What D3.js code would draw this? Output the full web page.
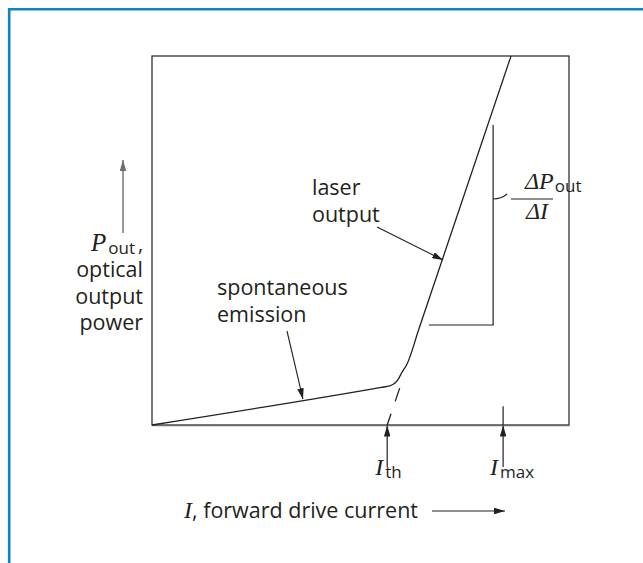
<!DOCTYPE html>
<html>
<head>
<meta charset="utf-8">
<script src="https://cdn.jsdelivr.net/npm/d3@7"></script>
<style>
  html, body { margin: 0; padding: 0; background: #fff; }
  svg { display: block; }
  .sans { font-family: 'Open Sans', 'Noto Sans', sans-serif; fill: #231f20; }
  .serif { font-family: 'Liberation Serif', 'DejaVu Serif', serif; font-style: italic; fill: #231f20; }
</style>
</head>
<body>
<div id="chart"></div>
<script>
// L-I curve of a laser diode (arbitrary units)
const currentVals = [0, 5.5, 5.70, 5.82, 5.91, 5.98, 6.12, 6.4, 8.61];
const powerVals   = [0, 1.02, 1.06, 1.13, 1.25, 1.40, 1.66, 2.6, 10];

// dashed extrapolation of the lasing line down to the threshold
const extrapCurrent = [5.94, 5.64];
const extrapPower   = [1.0, 0];

const thresholdCurrent = 5.64;
const maxCurrent = 8.42;

// slope bracket corner (current, power)
const bracketCurrent = [6.64, 8.18, 8.18];
const bracketPower   = [2.71, 2.71, 8.13];

const W = 643, H = 563;
const margin = { top: 56, right: 74, bottom: 138, left: 152 };
const w = W - margin.left - margin.right;
const h = H - margin.top - margin.bottom;

const svg = d3.select('#chart').append('svg')
  .attr('width', W).attr('height', H);

// blue page border (top + left)
svg.append('line').attr('x1', 9.2).attr('x2', W).attr('y1', 9.2).attr('y2', 9.2)
  .attr('stroke', '#0b84cc').attr('stroke-width', 2.6);
svg.append('line').attr('x1', 9.2).attr('x2', 9.2).attr('y1', 8).attr('y2', H)
  .attr('stroke', '#0b84cc').attr('stroke-width', 2.6);

const defs = svg.append('defs');
function arrowMarker(id, color, len, half) {
  defs.append('marker').attr('id', id)
    .attr('viewBox', `0 ${-half} ${len} ${half * 2}`)
    .attr('refX', len).attr('refY', 0)
    .attr('markerUnits', 'userSpaceOnUse')
    .attr('markerWidth', len).attr('markerHeight', half * 2)
    .attr('orient', 'auto')
    .append('path').attr('d', `M0,${-half}L${len},0L0,${half}Z`).attr('fill', color);
}
arrowMarker('head', '#231f20', 11, 3.3);
arrowMarker('headGrey', '#6d6e70', 11, 3.3);

const g = svg.append('g').attr('transform', `translate(${margin.left},${margin.top})`);

const x = d3.scaleLinear().domain([0, 10]).range([0, w]);
const y = d3.scaleLinear().domain([0, 10]).range([h, 0]);

// frame
g.append('rect').attr('width', w).attr('height', h)
  .attr('fill', 'none').attr('stroke', '#231f20').attr('stroke-width', 1.2);

// bottom axis line (no ticks)
g.append('g').attr('transform', `translate(0,${h})`)
  .call(d3.axisBottom(x).ticks(0).tickSizeOuter(0))
  .call(s => s.select('.domain').attr('stroke', '#6d6e70').attr('stroke-width', 1.6));

// L-I curve
const curve = currentVals.map((c, i) => ({ c, p: powerVals[i] }));
const line = d3.line().x(d => x(d.c)).y(d => y(d.p)).curve(d3.curveMonotoneX);
g.append('path').datum(curve).attr('d', line)
  .attr('fill', 'none').attr('stroke', '#231f20').attr('stroke-width', 1.3);

// threshold extrapolation
const extrap = extrapCurrent.map((c, i) => ({ c, p: extrapPower[i] }));
g.append('path').datum(extrap).attr('d', d3.line().x(d => x(d.c)).y(d => y(d.p)))
  .attr('fill', 'none').attr('stroke', '#231f20').attr('stroke-width', 1.3)
  .attr('stroke-dasharray', '14,13');

// slope bracket
const bracket = bracketCurrent.map((c, i) => ({ c, p: bracketPower[i] }));
g.append('path').datum(bracket).attr('d', d3.line().x(d => x(d.c)).y(d => y(d.p)))
  .attr('fill', 'none').attr('stroke', '#231f20').attr('stroke-width', 1.2);
const bx = x(bracketCurrent[1]);
g.append('path')
  .attr('d', `M${bx},${143}Q${bx + 8},${143} ${bx + 14},${138}`)
  .attr('fill', 'none').attr('stroke', '#231f20').attr('stroke-width', 1.1);

// Imax tick above the axis
g.append('line').attr('x1', x(maxCurrent)).attr('x2', x(maxCurrent))
  .attr('y1', y(0)).attr('y2', y(0.51))
  .attr('stroke', '#231f20').attr('stroke-width', 1.2);

// threshold and max current arrows
[thresholdCurrent, maxCurrent].forEach(c => {
  g.append('line').attr('x1', x(c)).attr('x2', x(c))
    .attr('y1', h + 42).attr('y2', h + 0.5)
    .attr('stroke', '#231f20').attr('stroke-width', 1.2)
    .attr('marker-end', 'url(#head)');
});

// annotation arrows to the curve
g.append('line').attr('x1', 377 - margin.left).attr('y1', 227 - margin.top)
  .attr('x2', x(6.98)).attr('y2', y(4.47))
  .attr('stroke', '#231f20').attr('stroke-width', 1.1).attr('marker-end', 'url(#head)');
g.append('line').attr('x1', 287 - margin.left).attr('y1', 331 - margin.top)
  .attr('x2', x(3.62)).attr('y2', y(0.70))
  .attr('stroke', '#231f20').attr('stroke-width', 1.1).attr('marker-end', 'url(#head)');

// labels
const FS = 21.5;
function multiline(lines, px, py, anchor) {
  const t = svg.append('text').attr('class', 'sans').attr('font-size', FS)
    .attr('text-anchor', anchor || 'start');
  lines.forEach((s, i) => t.append('tspan').attr('x', px).attr('y', py + i * 26.5).text(s));
}
multiline(['laser', 'output'], 312, 195);
multiline(['spontaneous', 'emission'], 217, 295);
multiline(['optical', 'output', 'power'], 143, 277, 'end');

// P_out label and arrow
svg.append('line').attr('x1', 123).attr('x2', 123).attr('y1', 233).attr('y2', 160)
  .attr('stroke', '#6d6e70').attr('stroke-width', 1.4).attr('marker-end', 'url(#headGrey)');
const pl = svg.append('text').attr('x', 91).attr('y', 251);
pl.append('tspan').attr('class', 'serif').attr('font-size', 25).text('P');
pl.append('tspan').attr('class', 'sans').attr('font-size', 17).attr('dx', 2).attr('dy', 3).text('out');
pl.append('tspan').attr('class', 'sans').attr('font-size', 20).attr('dx', 3).attr('dy', -3).text(',');

// dP/dI
const dp = svg.append('text').attr('x', 525).attr('y', 189);
dp.append('tspan').attr('class', 'serif').attr('font-style', 'normal').attr('font-size', 24).text('Δ');
dp.append('tspan').attr('class', 'serif').attr('font-size', 24).text('P');
dp.append('tspan').attr('class', 'sans').attr('font-size', 17).attr('dx', 1).attr('dy', 3).text('out');
svg.append('line').attr('x1', 511).attr('x2', 553).attr('y1', 199).attr('y2', 199)
  .attr('stroke', '#231f20').attr('stroke-width', 1.1);
const di = svg.append('text').attr('x', 526).attr('y', 219);
di.append('tspan').attr('class', 'serif').attr('font-style', 'normal').attr('font-size', 24).text('Δ');
di.append('tspan').attr('class', 'serif').attr('font-size', 24).text('I');

// I_th and I_max
function subLabel(px, py, sub) {
  const t = svg.append('text').attr('x', px).attr('y', py);
  t.append('tspan').attr('class', 'serif').attr('font-size', 24).text('I');
  t.append('tspan').attr('class', 'sans').attr('font-size', 17).attr('dx', 2).attr('dy', 3).text(sub);
}
subLabel(margin.left + x(thresholdCurrent) - 12, 475, 'th');
subLabel(margin.left + x(maxCurrent) - 13, 475, 'max');

// x axis title
const xt = svg.append('text').attr('x', 184).attr('y', 518);
xt.append('tspan').attr('class', 'serif').attr('font-size', 24).text('I');
xt.append('tspan').attr('class', 'sans').attr('font-size', FS).text(', forward drive current');
svg.append('line').attr('x1', 432).attr('x2', 505).attr('y1', 511).attr('y2', 511)
  .attr('stroke', '#231f20').attr('stroke-width', 1.1).attr('marker-end', 'url(#head)');
</script>
</body>
</html>
